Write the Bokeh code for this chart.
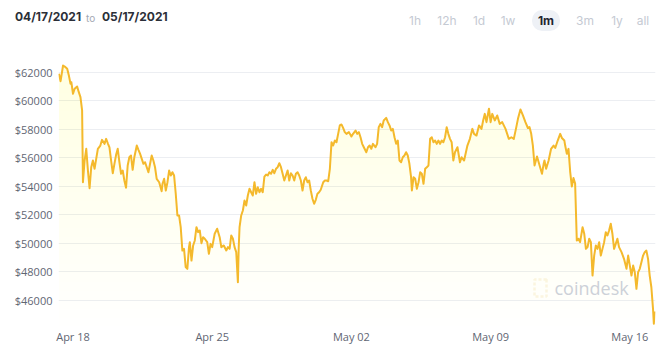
import numpy as np
import pandas as pd
from bokeh.plotting import figure
from bokeh.layouts import column
from bokeh.models import (Range1d, FixedTicker, NumeralTickFormatter, DatetimeTickFormatter,
                          Label, PolyAnnotation, ColumnDataSource, Div)
from bokeh.embed import file_html
from bokeh.resources import INLINE

# ---------------- data ----------------
start_date = "2021-04-17"
date_from = "04/17/2021"
date_to = "05/17/2021"

hours = [
    7, 9, 12, 14, 17, 19, 21, 22, 24, 26,
    29, 31, 33, 35, 36, 38, 40, 42, 44, 46,
    48, 50, 52, 54, 57, 59, 62, 64, 66, 68,
    70, 72, 74, 76, 78, 80, 82, 84, 86, 88,
    90, 92, 94, 96, 98, 101, 103, 105, 107, 109,
    111, 113, 115, 117, 119, 121, 123, 125, 128, 131,
    132, 134, 136, 138, 140, 142, 144, 146, 148, 150,
    152, 154, 156, 158, 160, 162, 164, 165, 167, 169,
    171, 173, 175, 177, 179, 181, 183, 186, 188, 190,
    192, 195, 198, 201, 203, 206, 209, 211, 213, 215,
    217, 219, 221, 223, 224, 225, 227, 229, 231, 233,
    235, 237, 239, 241, 243, 245, 247, 249, 251, 253,
    255, 257, 259, 261, 263, 265, 267, 269, 271, 273,
    275, 277, 279, 281, 283, 285, 287, 289, 291, 293,
    295, 297, 299, 301, 303, 305, 307, 309, 311, 313,
    315, 317, 319, 321, 323, 326, 328, 330, 332, 334,
    336, 338, 340, 342, 344, 346, 348, 350, 352, 354,
    357, 360, 362, 365, 367, 369, 371, 373, 375, 378,
    380, 382, 384, 386, 389, 391, 393, 395, 397, 399,
    402, 404, 406, 408, 410, 412, 414, 416, 418, 420,
    422, 424, 426, 428, 430, 432, 433, 435, 437, 439,
    441, 443, 445, 447, 449, 451, 453, 455, 457, 459,
    461, 463, 465, 467, 469, 471, 473, 475, 477, 479,
    481, 483, 485, 488, 491, 493, 496, 500, 503, 506,
    508, 511, 514, 517, 519, 521, 523, 526, 528, 530,
    533, 536, 539, 542, 546, 550, 553, 556, 559, 561,
    564, 567, 570, 573, 575, 577, 579, 581, 584, 586,
    590, 592, 593, 595, 598, 601, 604, 606, 609, 612,
    614, 617, 618, 620, 622, 624, 626, 628, 630, 632,
    634, 636, 639, 641, 643, 645, 647, 649, 651, 653,
    655, 657, 659, 661, 663, 665, 667, 669, 671, 673,
    675, 677, 679, 681, 683, 686, 689, 692, 694, 696,
    698, 700, 702, 704, 706, 708, 710, 712, 714, 716,
    718, 720, 722, 724, 725, 726,
]

prices = [
    61890, 61370, 62470, 62400, 62240, 61770, 61190, 61300, 60490, 60840,
    61000, 60600, 60250, 59320, 54290, 55810, 56630, 55110, 53870, 55340,
    55810, 55230, 55930, 56630, 56860, 57260, 56980, 57330, 57020, 56740,
    55810, 54920, 55580, 56210, 56630, 55690, 54880, 55110, 54410, 53900,
    55460, 56040, 56160, 55160, 56040, 56860, 56560, 56280, 55930, 55580,
    55690, 55340, 54990, 55580, 56160, 55810, 55340, 54530, 54290, 53660,
    54180, 54530, 53710, 54290, 55110, 54760, 54990, 54760, 53480, 51960,
    51960, 51140, 49500, 49620, 48340, 48220, 49740, 50090, 48800, 49860,
    50210, 51140, 50790, 50910, 50020, 50440, 50330, 50090, 49270, 49970,
    49740, 50680, 51030, 50440, 49740, 49860, 49510, 49740, 49620, 50560,
    50330, 49740, 49390, 47280, 49740, 51140, 51960, 52310, 53010, 52660,
    53360, 53830, 53590, 53360, 54290, 53480, 53940, 53590, 53830, 53590,
    54690, 54830, 54760, 54990, 54880, 55160, 54920, 55230, 55340, 55620,
    55340, 54880, 54410, 54760, 55110, 54410, 54920, 54760, 54410, 54880,
    54990, 54760, 54410, 53710, 54410, 54640, 54290, 54410, 53710, 53130,
    52780, 53060, 53480, 53590, 53760, 54290, 54410, 54410, 54360, 55230,
    57090, 56860, 57210, 57090, 57680, 58270, 58340, 58100, 57800, 57680,
    57800, 57490, 57680, 57910, 57680, 57800, 57440, 56980, 56740, 56390,
    56740, 56860, 56630, 56980, 56740, 56980, 58150, 58380, 58150, 58620,
    58800, 58500, 58270, 57910, 58030, 57440, 56980, 57210, 55810, 55690,
    56040, 56160, 56390, 56160, 55580, 54640, 53710, 54640, 54530, 53830,
    54290, 54990, 54880, 54180, 55230, 55340, 55460, 57330, 57440, 57090,
    57210, 56980, 57210, 56980, 57210, 57090, 57440, 58150, 57680, 57330,
    57090, 55810, 56390, 56740, 55690, 56040, 55810, 56860, 57330, 58030,
    57680, 57560, 58270, 58030, 58620, 59080, 58500, 59440, 58500, 59080,
    58620, 58970, 58380, 58500, 58030, 57330, 57440, 57330, 58150, 58730,
    59390, 58970, 58500, 58090, 58150, 57680, 56860, 55460, 56090, 55690,
    54880, 55580, 55810, 55230, 55810, 56630, 56860, 56690, 57210, 57680,
    57390, 57210, 56860, 56280, 56630, 55040, 53990, 54590, 54200, 50210,
    50330, 50090, 51140, 50680, 49620, 49740, 50330, 50090, 47750, 49150,
    49860, 49620, 50090, 49150, 49620, 50090, 50790, 50560, 50910, 51380,
    50680, 49620, 49970, 50330, 49740, 49390, 48920, 48220, 49150, 48450,
    47750, 48450, 47980, 46820, 47980, 48220, 48690, 49150, 49390, 49500,
    48920, 47750, 46930, 45420, 44370, 45230,
]

price_ticks = [46000, 48000, 50000, 52000, 54000, 56000, 58000, 60000, 62000]
date_ticks = ["2021-04-18", "2021-04-25", "2021-05-02", "2021-05-09", "2021-05-16"]
range_buttons = ["1h", "12h", "1d", "1w", "1m", "3m", "1y", "all"]
active_button = "1m"

# ---------------- layout constants ----------------
W = 670
HEAD_H = 40
MAIN_H = 349 - HEAD_H
LEFT, RIGHT, TOP, BOTTOM = 58, 15, 16, 23

ui_font = "Inter"
font = "Open Sans"

# ---------------- header strip (HTML text) ----------------
btn_x = [415, 447, 479, 508, 546, 585, 617, 643]
parts = [
    f'<span style="position:absolute;left:15px;top:9px;line-height:16px;font-size:12px;'
    f'font-weight:700;color:#2b2f38;">{date_from}</span>',
    f'<span style="position:absolute;left:86px;top:10px;line-height:16px;font-size:10px;'
    f'color:#a3a9b3;">to</span>',
    f'<span style="position:absolute;left:102px;top:9px;line-height:16px;font-size:12px;'
    f'font-weight:700;color:#2b2f38;">{date_to}</span>',
]
for label_text, bx in zip(range_buttons, btn_x):
    if label_text == active_button:
        parts.append(
            f'<span style="position:absolute;left:{bx - 14}px;top:10px;width:28px;height:21px;'
            f'line-height:21px;text-align:center;border-radius:10px;background:#eef1f6;'
            f'font-size:12px;font-weight:700;color:#1f2430;">{label_text}</span>')
    else:
        parts.append(
            f'<span style="position:absolute;left:{bx - 15}px;top:13px;width:30px;'
            f'line-height:16px;text-align:center;font-size:12px;color:#c5cad3;">'
            f'{label_text}</span>')
head_html = (f'<div style="position:relative;width:{W}px;height:{HEAD_H}px;'
             f'font-family:{ui_font},sans-serif;background:white;">' + "".join(parts) + '</div>')
head = Div(text=head_html, width=W, height=HEAD_H, margin=(0, 0, 0, 0))

# ---------------- main chart ----------------
n = min(len(hours), len(prices))
t0 = pd.Timestamp(start_date)
times = (t0 + pd.to_timedelta(np.array(hours[:n], dtype=float), unit="h")).to_numpy()
price = np.array(prices[:n], dtype=float)

x_start = (t0 + pd.Timedelta(hours=6.5)).value / 1e6
x_end = (t0 + pd.Timedelta(hours=727)).value / 1e6
y_start, y_end = 44180, 63100

p = figure(width=W, height=MAIN_H, output_backend="svg", toolbar_location=None,
           x_axis_type="datetime",
           x_range=Range1d(x_start, x_end), y_range=Range1d(y_start, y_end),
           min_border_left=LEFT, min_border_right=RIGHT,
           min_border_top=TOP, min_border_bottom=BOTTOM, margin=(0, 0, 0, 0))
p.background_fill_color = "white"
p.border_fill_color = "white"
p.outline_line_color = None

# gradient area under the line: stacked translucent layers
line_color = "#f4b92c"
fill_color = "#f6c34a"
n_layers = 30
levels = np.linspace(y_start, y_end, n_layers + 1)[:-1]
for lv in levels:
    p.varea(x=times, y1=np.full(n, lv), y2=np.maximum(price, lv),
            fill_color=fill_color, fill_alpha=0.0074)

src = ColumnDataSource(dict(t=times, price=price))
p.line("t", "price", source=src, line_color=line_color, line_width=2, line_join="round")

# axes
p.yaxis.ticker = FixedTicker(ticks=price_ticks)
p.yaxis.formatter = NumeralTickFormatter(format="$0")
p.xaxis.ticker = FixedTicker(ticks=[pd.Timestamp(d).value / 1e6 for d in date_ticks])
fmt = "%b %d"
p.xaxis.formatter = DatetimeTickFormatter(
    milliseconds=fmt, seconds=fmt, minsec=fmt, minutes=fmt, hourmin=fmt, hours=fmt,
    days=fmt, months=fmt, years=fmt, context=None)
for ax in (p.xaxis, p.yaxis):
    ax.axis_line_color = None
    ax.major_tick_line_color = None
    ax.minor_tick_line_color = None
    ax.major_tick_out = 0
    ax.major_tick_in = 0
    ax.major_label_text_font = font
    ax.major_label_text_font_size = "11px"
    ax.major_label_text_color = "#5f6673"
p.yaxis.major_label_standoff = 6
p.xaxis.major_label_standoff = 2
p.xgrid.grid_line_color = None
p.ygrid.grid_line_color = "#eceef2"
p.ygrid.grid_line_width = 1


def sx(cx):
    return cx - LEFT


def sy(cy):
    # cy measured in the full 349px page
    return (349 - BOTTOM) - cy


# watermark
p.add_layout(Label(x=sx(554), y=sy(287), x_units="screen", y_units="screen", text="coindesk",
                   text_font=font, text_font_size="18px", text_color="#cdd1d8",
                   text_baseline="middle", text_align="left"))
icon_x = [546, 534, 534, 546]
icon_y = [279, 279, 296, 296]
p.add_layout(PolyAnnotation(xs=[sx(v) for v in icon_x], ys=[sy(v) for v in icon_y],
                            xs_units="screen", ys_units="screen",
                            fill_color=None, line_color="#f3dda3", line_width=2.5,
                            line_dash="3 2"))

layout = column(head, p, spacing=0)
open("out.html", "w").write(file_html(layout, INLINE))
